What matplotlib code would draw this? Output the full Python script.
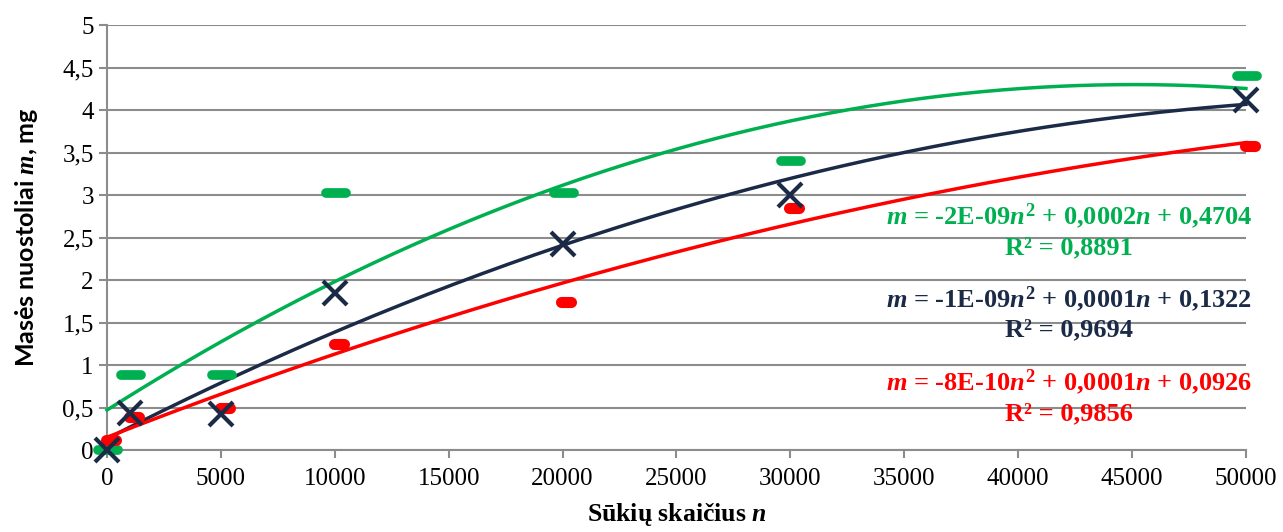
import numpy as np
import matplotlib
matplotlib.use("Agg")
import matplotlib.pyplot as plt
from matplotlib.markers import MarkerStyle

# Sukiu skaicius n
n_values = [0, 1000, 5000, 10000, 20000, 30000, 50000]

# mases nuostoliai, mg (three series)
m_green = [0.0, 0.88, 0.88, 3.02, 3.02, 3.40, 4.40]
m_navy = [0.0, 0.44, 0.42, 1.85, 2.42, 3.00, 4.12]
m_red = [0.12, 0.39, 0.50, 1.25, 1.74, 2.85, 3.58]

eq_green = ["-2E-09", "0,0002", "0,4704", "0,8891"]
eq_navy = ["-1E-09", "0,0001", "0,1322", "0,9694"]
eq_red = ["-8E-10", "0,0001", "0,0926", "0,9856"]

GREEN = "#00B050"
NAVY = "#1B2A47"
RED = "#FF0000"
GRID = "#8C8C8C"

plt.rcParams["font.family"] = "Liberation Serif"
plt.rcParams["mathtext.fontset"] = "custom"
plt.rcParams["mathtext.rm"] = "Liberation Serif:bold"
plt.rcParams["mathtext.it"] = "Liberation Serif:italic:bold"
plt.rcParams["mathtext.bf"] = "Liberation Serif:bold"

fig = plt.figure(figsize=(12.83, 5.32), dpi=100)
ax = fig.add_axes([0.0834, 0.1541, 0.8877, 0.7989])

x = np.array(n_values, dtype=float)
xs = np.linspace(0, 50000, 300)

# polynomial trendlines (order 2), like Excel
for ys, col in [(m_green, GREEN), (m_navy, NAVY), (m_red, RED)]:
    c = np.polyfit(x, ys, 2)
    ax.plot(xs, np.polyval(c, xs), color=col, lw=2.5, zorder=3, clip_on=False)

dash = MarkerStyle("_", capstyle="round")
ax.plot(x + 50, m_green, ls="none", marker=dash, ms=15, mew=7, color=GREEN,
        zorder=4, clip_on=False)
ax.plot(x + 170, m_red, ls="none", marker=dash, ms=7, mew=8, color=RED,
        zorder=4, clip_on=False)
ax.plot(x, m_navy, ls="none", marker="x", ms=17, mew=3, color=NAVY,
        zorder=5, clip_on=False)

ax.set_xlim(0, 50000)
ax.set_ylim(0, 5)
ax.set_xticks(range(0, 50001, 5000))
yt = np.arange(0, 5.01, 0.5)
ax.set_yticks(yt)
ax.set_yticklabels([f"{v:g}".replace(".", ",") for v in yt])
ax.tick_params(labelsize=18, colors=GRID, labelcolor="black", length=6,
               width=1.5, direction="out")
ax.tick_params(axis="x", pad=7)
ax.grid(axis="y", color=GRID, lw=1.5, zorder=0)
ax.set_axisbelow(True)
for s in ["top", "right"]:
    ax.spines[s].set_visible(False)
for s in ["left", "bottom"]:
    ax.spines[s].set_color(GRID)
    ax.spines[s].set_linewidth(1.5)

ax.set_xlabel(r"Sūkių skaičius $\mathit{n}$", fontsize=18.5, fontweight="bold",
              labelpad=8)
ax.set_ylabel(r"Masės nuostoliai $\mathit{m}$, mg", fontsize=18,
              fontweight="bold", family="Lato", labelpad=16)


def put_eq(vals, col, y):
    a, b, c, r2 = vals
    txt = (r"$\mathit{m}$ = " + a + r"$\mathit{n}^{\mathrm{2}}$ + " + b +
           r"$\mathit{n}$ + " + c)
    ax.text(42230, y, txt, color=col, fontsize=19, fontweight="bold",
            ha="center", va="center")
    ax.text(42230, y - 0.37, "R² = " + r2, color=col, fontsize=19,
            fontweight="bold", ha="center", va="center")


put_eq(eq_green, GREEN, 2.75)
put_eq(eq_navy, NAVY, 1.78)
put_eq(eq_red, RED, 0.80)

fig.savefig("out.png", dpi=100)
